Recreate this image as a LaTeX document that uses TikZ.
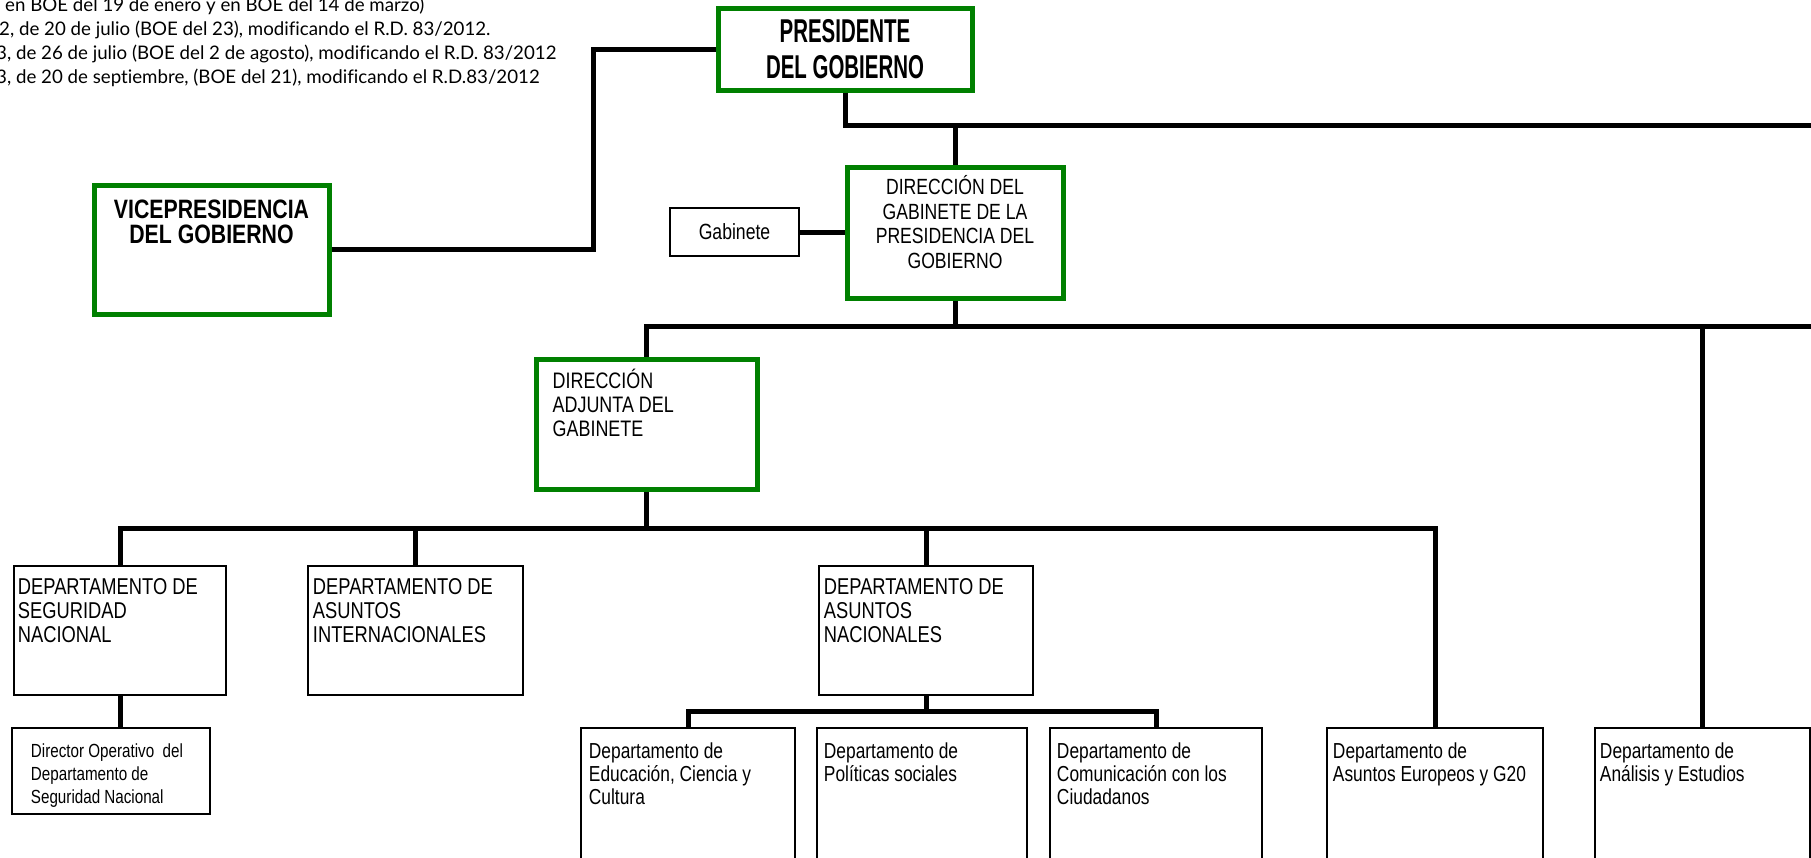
\documentclass[tikz,border=0pt]{standalone}
\usepackage{fontspec}
\setmainfont{Liberation Sans}
\newfontfamily\narrowfont[FakeStretch=0.8]{Liberation Sans}
\newfontfamily\headfont[FakeStretch=0.62]{Liberation Sans}
\newfontfamily\notefont[Ligatures=NoCommon]{Lato}
\usetikzlibrary{positioning}
\definecolor{govgreen}{RGB}{0,128,0}
\tikzstyle{link} = [line width=5pt]

\begin{document}
\begin{tikzpicture}[x=1pt, y=-1pt,
    greenbox/.style={draw=govgreen, line width=5pt, inner sep=0pt},
    blackbox/.style={draw, line width=2.5pt, inner sep=0pt},
    boxtext/.style={inner sep=0pt, align=left, font=\narrowfont\fontsize{22.4}{24.2}\selectfont},
    depttext/.style={inner sep=0pt, align=left, font=\narrowfont\fontsize{22.9}{24}\selectfont},
    smalltext/.style={inner sep=0pt, align=left, font=\narrowfont\fontsize{21.7}{23}\selectfont},
    note/.style={anchor=base west, inner sep=0pt, font=\notefont\fontsize{18.7}{20}\selectfont}]
            \useasboundingbox (0,0) rectangle (1811,857);
            \clip (0,0) rectangle (1811,857);

            % Notes at the top left
            \node[note] (note1) at (5,11) {en BOE del 19 de enero y en BOE del 14 de marzo)};
            \node[note] (note2) at (-1,35) {2, de 20 de julio (BOE del 23), modificando el R.D. 83/2012.};
            \node[note] (note3) at (-4,59) {3, de 26 de julio (BOE del 2 de agosto), modificando el R.D. 83/2012};
            \node[note] (note4) at (-4,83) {3, de 20 de septiembre, (BOE del 21), modificando el R.D.83/2012};

            % Top of the chart
            \node[greenbox, minimum width=254pt, minimum height=82pt, align=center,
                  font=\headfont\bfseries\fontsize{33}{36}\selectfont] (pres) at (845,49) {PRESIDENTE\\DEL GOBIERNO};
            \node[greenbox, minimum width=235pt, minimum height=129pt] (vice) at (211.5,249.5) {};
            \node[below=17pt of vice.north, inner sep=0pt, align=center,
                  font=\narrowfont\bfseries\fontsize{26.6}{25}\selectfont] (vicetxt) {VICEPRESIDENCIA\\DEL GOBIERNO};
            \node[greenbox, minimum width=216pt, minimum height=131pt] (dgpg) at (955,232.5) {};
            \node[below=11pt of dgpg.north, boxtext, align=center,
                  font=\narrowfont\fontsize{22}{24.6}\selectfont] (dgpgtxt) {DIRECCIÓN DEL\\GABINETE DE LA\\PRESIDENCIA DEL\\GOBIERNO};
            \node[blackbox, minimum width=129pt, minimum height=48pt,
                  font=\narrowfont\fontsize{22}{24}\selectfont] (gab) at (734.5,232) {Gabinete};
            \node[greenbox, minimum width=221pt, minimum height=130pt] (adj) at (646.5,424) {};
            \node[below right=12pt and 19pt of adj.north west, boxtext] (adjtxt) {DIRECCIÓN\\ADJUNTA DEL\\GABINETE};

            % Departments
            \node[blackbox, minimum width=212pt, minimum height=129pt] (dsn) at (120,630.5) {};
            \node[below right=14pt and 5pt of dsn.north west, depttext] (dsntxt) {DEPARTAMENTO DE\\SEGURIDAD\\NACIONAL};
            \node[blackbox, minimum width=215pt, minimum height=129pt] (dai) at (415.5,630.5) {};
            \node[below right=14pt and 6pt of dai.north west, depttext] (daitxt) {DEPARTAMENTO DE\\ASUNTOS\\INTERNACIONALES};
            \node[blackbox, minimum width=214pt, minimum height=129pt] (dan) at (926,630.5) {};
            \node[below right=14pt and 6pt of dan.north west, depttext] (dantxt) {DEPARTAMENTO DE\\ASUNTOS\\NACIONALES};
            \node[blackbox, minimum width=198pt, minimum height=86pt] (dir) at (111,771) {};
            \node[below right=17pt and 20pt of dir.north west, inner sep=0pt, align=left,
                  font=\narrowfont\fontsize{19}{23}\selectfont] (dirtxt) {Director Operativo~~del\\Departamento de\\Seguridad Nacional};

            % Bottom row
            \node[blackbox, minimum width=214pt, minimum height=150pt] (edu) at (688,803) {};
            \node[below right=16pt and 9pt of edu.north west, smalltext] (edutxt) {Departamento de\\Educación, Ciencia y\\Cultura};
            \node[blackbox, minimum width=210pt, minimum height=150pt] (pol) at (922,803) {};
            \node[below right=16pt and 8pt of pol.north west, smalltext] (poltxt) {Departamento de\\Políticas sociales};
            \node[blackbox, minimum width=212pt, minimum height=150pt] (com) at (1156,803) {};
            \node[below right=16pt and 8pt of com.north west, smalltext] (comtxt) {Departamento de\\Comunicación con los\\Ciudadanos};
            \node[blackbox, minimum width=216pt, minimum height=150pt] (eur) at (1435,803) {};
            \node[below right=16pt and 7pt of eur.north west, smalltext] (eurtxt) {Departamento de\\Asuntos Europeos y G20};
            \node[blackbox, minimum width=215pt, minimum height=150pt] (ana) at (1702.5,803) {};
            \node[below right=16pt and 6pt of ana.north west, smalltext] (anatxt) {Departamento de\\Análisis y Estudios};

            % Bus lines
            \coordinate (busA) at (1830,125);
            \coordinate (busB) at (1830,326);
            \coordinate (busC) at (0,528);
            \coordinate (busD) at (0,711);

            % Connectors
            \draw[link] (pres.west) -- ++(-122,0) |- (vice.east);
            \draw[link] (pres.south) |- (busA);
            \draw[link] (dgpg.north) -- (dgpg.north |- busA);
            \draw[link] (gab.east) -- (gab.east -| dgpg.west);
            \draw[link] (dgpg.south) -- (dgpg.south |- busB);
            \draw[link] (adj.north) |- (busB);
            \draw[link] (ana.north) -- (ana.north |- busB);
            \draw[link] (adj.south) -- (adj.south |- busC);
            \draw[link] (dsn.north) |- (busC -| eur.north) -- (eur.north);
            \draw[link] (dai.north) -- (dai.north |- busC);
            \draw[link] (dan.north) -- (dan.north |- busC);
            \draw[link] (dsn.south) -- (dsn.south |- dir.north);
            \draw[link] (dan.south) -- (dan.south |- busD);
            \draw[link] (edu.north) |- (busD -| com.north) -- (com.north);
        \end{tikzpicture}
\end{document}
